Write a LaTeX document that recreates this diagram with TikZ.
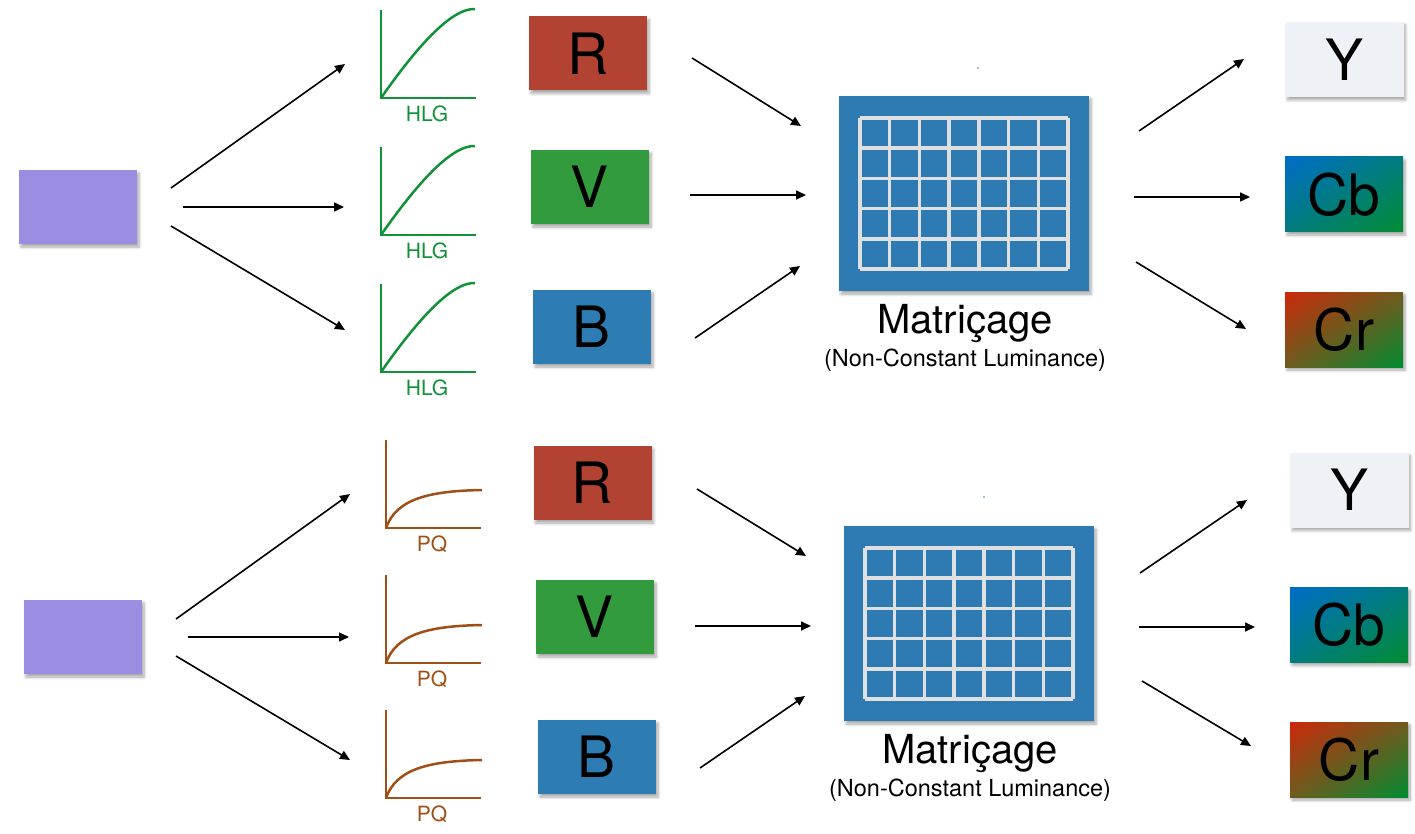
\documentclass[tikz,border=0pt]{standalone}
\usepackage{fontspec}
\setmainfont{TeX Gyre Heros}
\usetikzlibrary{arrows.meta,shadows.blur,shadings}

\definecolor{srcpurple}{RGB}{154,141,226}
\definecolor{chanR}{RGB}{178,67,50}
\definecolor{chanV}{RGB}{50,155,62}
\definecolor{chanB}{RGB}{46,124,180}
\definecolor{matblue}{RGB}{46,122,178}
\definecolor{gridgray}{RGB}{222,224,226}
\definecolor{lumabg}{RGB}{238,242,246}
\definecolor{hlggreen}{RGB}{18,146,56}
\definecolor{pqbrown}{RGB}{158,80,22}
\definecolor{cbblue}{RGB}{0,108,200}
\definecolor{cbmid}{RGB}{0,124,126}
\definecolor{ccgreen}{RGB}{0,140,50}
\definecolor{crred}{RGB}{204,40,10}
\definecolor{crmid}{RGB}{110,92,30}

\tikzset{
  boxshadow/.style={blur shadow={shadow xshift=2pt,shadow yshift=-3pt,shadow blur steps=6,shadow opacity=35,shadow blur radius=3pt}},
  srcbox/.style={fill=srcpurple,minimum width=118pt,minimum height=74pt,inner sep=0pt,boxshadow},
  chanbox/.style={minimum width=118pt,minimum height=74pt,inner sep=0pt,boxshadow,
    font=\fontsize{57}{60}\selectfont},
  outbox/.style={minimum width=118pt,minimum height=75pt,inner sep=0pt,boxshadow,
    font=\fontsize{57}{60}\selectfont},
  matbox/.style={fill=matblue,minimum width=250pt,minimum height=195pt,inner sep=0pt,boxshadow},
  mattitle/.style={anchor=base,font=\fontsize{40}{42}\selectfont},
  matsub/.style={anchor=base,font=\fontsize{23.5}{25}\selectfont},
  arr/.style={line width=1.6pt,-{Triangle[length=10pt,width=9pt]}},
  gridline/.style={gridgray,line width=3.5pt},
  curvelbl/.style={font=\fontsize{21}{22}\selectfont,inner sep=0pt},
  cbshade/.style={upper left=cbblue,upper right=cbmid,lower left=cbmid,lower right=ccgreen},
  crshade/.style={upper left=crred,upper right=crmid,lower left=crmid,lower right=ccgreen},
  hlgicon/.pic={
    \draw[hlggreen,line width=2.5pt] (0,-88) -- (0,0) -- (95,0);
    \draw[hlggreen,line width=2.5pt] (0,0) .. controls (35,-50) and (70,-90) .. (94,-89);
    \node[curvelbl,text=hlggreen] (-label) at (46,15.5) {HLG};
  },
  pqicon/.pic={
    \draw[pqbrown,line width=2.5pt] (0,-88) -- (0,0) -- (95,0);
    \draw[pqbrown,line width=2.5pt] (0,0) .. controls (10,-28) and (40,-37) .. (96,-38);
    \node[curvelbl,text=pqbrown] (-label) at (46,16) {PQ};
  },
}

\begin{document}
\begin{tikzpicture}[x=1pt,y=-1pt]
\useasboundingbox (0,0) rectangle (1415,834);

% ---------------- upper chain: HLG ----------------
\node[srcbox] (s1) at (78,207) {};
\pic (h1) at (381,98) {hlgicon};
\pic (h2) at (381,235) {hlgicon};
\pic (h3) at (381,372) {hlgicon};
\node[chanbox,fill=chanR] (r1) at (588,53.5) {R};
\node[chanbox,fill=chanV] (v1) at (590,187) {V};
\node[chanbox,fill=chanB] (b1) at (592,327) {B};
\node[matbox] (m1) at (964,193.5) {};
\begin{scope}[shift={(m1.center)}]
  \foreach \i in {0,...,7} \draw[gridline] (-104+\i*29.714,-75.5) -- (-104+\i*29.714,75.5);
  \foreach \j in {0,...,5} \draw[gridline] (-104,-75.5+\j*30.2) -- (104,-75.5+\j*30.2);
\end{scope}
\fill[matblue] (978,68) circle (0.8pt);
\node[mattitle] (t1) at (965,333) {Matriçage};
\node[matsub] (u1) at (965,366) {(Non-Constant Luminance)};
\node[outbox,fill=lumabg] (y1) at (1344.5,59.5) {Y};
\node[outbox,cbshade] (cb1) at (1344,194.5) {Cb};
\node[outbox,crshade] (cr1) at (1344,329.5) {Cr};

% ---------------- lower chain: PQ ----------------
\node[srcbox] (s2) at (83,637) {};
\pic (p1) at (386,528) {pqicon};
\pic (p2) at (386,663) {pqicon};
\pic (p3) at (386,798) {pqicon};
\node[chanbox,fill=chanR] (r2) at (592.5,483) {R};
\node[chanbox,fill=chanV] (v2) at (595,617) {V};
\node[chanbox,fill=chanB] (b2) at (597,757) {B};
\node[matbox] (m2) at (969,623.5) {};
\begin{scope}[shift={(m2.center)}]
  \foreach \i in {0,...,7} \draw[gridline] (-104+\i*29.714,-75.5) -- (-104+\i*29.714,75.5);
  \foreach \j in {0,...,5} \draw[gridline] (-104,-75.5+\j*30.2) -- (104,-75.5+\j*30.2);
\end{scope}
\fill[matblue] (984,497) circle (0.8pt);
\node[mattitle] (t2) at (970,763) {Matriçage};
\node[matsub] (u2) at (970,796) {(Non-Constant Luminance)};
\node[outbox,fill=lumabg] (y2) at (1349.5,490) {Y};
\node[outbox,cbshade] (cb2) at (1349,625) {Cb};
\node[outbox,crshade] (cr2) at (1349,759.5) {Cr};

% ---------------- connectors ----------------
\foreach \n/\xa/\ya/\xb/\yb in {
  a1/171/188/345/64, a2/183/207/344/207, a3/171/226/345/330,
  a4/692/58/801/126, a5/690/195/806/195, a6/695/338/800/266,
  a7/1139/131/1244/59, a8/1134/197/1250/197, a9/1136/262/1246/329,
  b1/176/619/350/494, b2/188/637/349/637, b3/176/656/350/760,
  b4/697/489/806/556, b5/695/626/811/626, b6/700/768/805/696,
  b7/1140/573/1247/500, b8/1139/627/1255/627, b9/1142/681/1251/746}{
  \coordinate (\n-from) at (\xa,\ya);
  \coordinate (\n-to) at (\xb,\yb);
  \draw[arr] (\n-from) -- (\n-to);
}
\end{tikzpicture}
\end{document}
